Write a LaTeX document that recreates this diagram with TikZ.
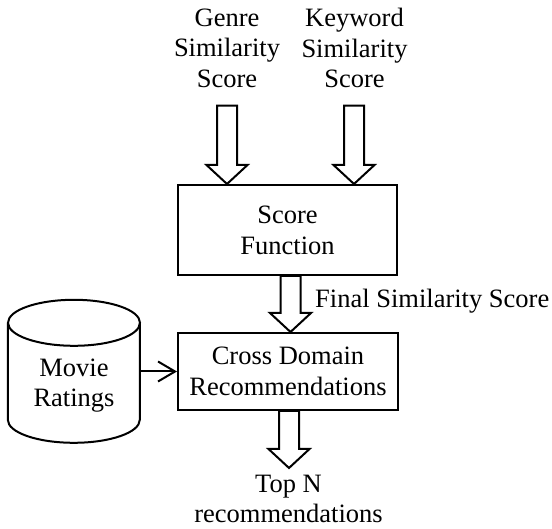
\documentclass[tikz,border=0pt]{standalone}
\usepackage{fontspec}
\setmainfont{Liberation Serif}
\usetikzlibrary{arrows.meta,calc}
\newcommand{\blkarrow}[2]{\draw[blk] let \p1=(#1), \p2=(#2) in
  (\x2-10pt,\y1) -- (\x2-10pt,\y2+19pt) -- (\x2-20.5pt,\y2+19pt) -- (\x2,\y2)
  -- (\x2+20.5pt,\y2+19pt) -- (\x2+10pt,\y2+19pt) -- (\x2+10pt,\y1) -- cycle;}
\begin{document}
\begin{tikzpicture}[x=1pt,y=1pt,
  lbl/.style={align=center, inner sep=0pt, font=\fontsize{26.5}{30.5}\selectfont},
  box/.style={draw, line width=2pt, align=center, inner sep=0pt, font=\fontsize{26.5}{31}\selectfont},
  blk/.style={draw, line width=2pt, fill=white, line join=miter},
  edge/.style={line width=2pt}]
\useasboundingbox (0,0) rectangle (552,529);
\node[box, minimum width=219pt, minimum height=90pt] (score) at (287.5,299) {Score\\Function};
\node[box, minimum width=220pt, minimum height=77pt] (cross) at (288,157.5) {Cross Domain\\Recommendations};
\node[lbl] (genre) at (227,481) {Genre\\Similarity\\Score};
\node[lbl] (keyword) at (354.5,481) {Keyword\\Similarity\\Score};
\node[lbl, anchor=base west] (final) at (315,221) {Final Similarity Score};
\node[lbl] (topn) at (288.5,30) {Top N\\recommendations};
% cylinder
\node[inner sep=0pt, minimum width=132pt, minimum height=143pt] (db) at (74,157.5) {};
\draw[edge] ($(db.north west)+(0,-23)$) -- ++(0,-97)
  arc[start angle=180,end angle=360,x radius=66,y radius=23] -- ++(0,97);
\draw[edge] ($(db.north)+(0,-23)$) ellipse [x radius=66, y radius=23];
\node[lbl] (movie) at (74,143.6) {Movie\\Ratings};
\draw[edge, -{Straight Barb[length=17pt,width=20pt,line width=2pt]}] (db.east) -- (cross.west);
% block arrows
\coordinate (gtop) at (227,423.3);
\coordinate (ktop) at (354,423.3);
\coordinate (fx) at (290.5,0);
\coordinate (bend) at (289,61);
\blkarrow{gtop}{score.north -| gtop}
\blkarrow{ktop}{score.north -| ktop}
\blkarrow{score.south -| fx}{cross.north -| fx}
\blkarrow{cross.south -| bend}{bend}
\end{tikzpicture}
\end{document}
